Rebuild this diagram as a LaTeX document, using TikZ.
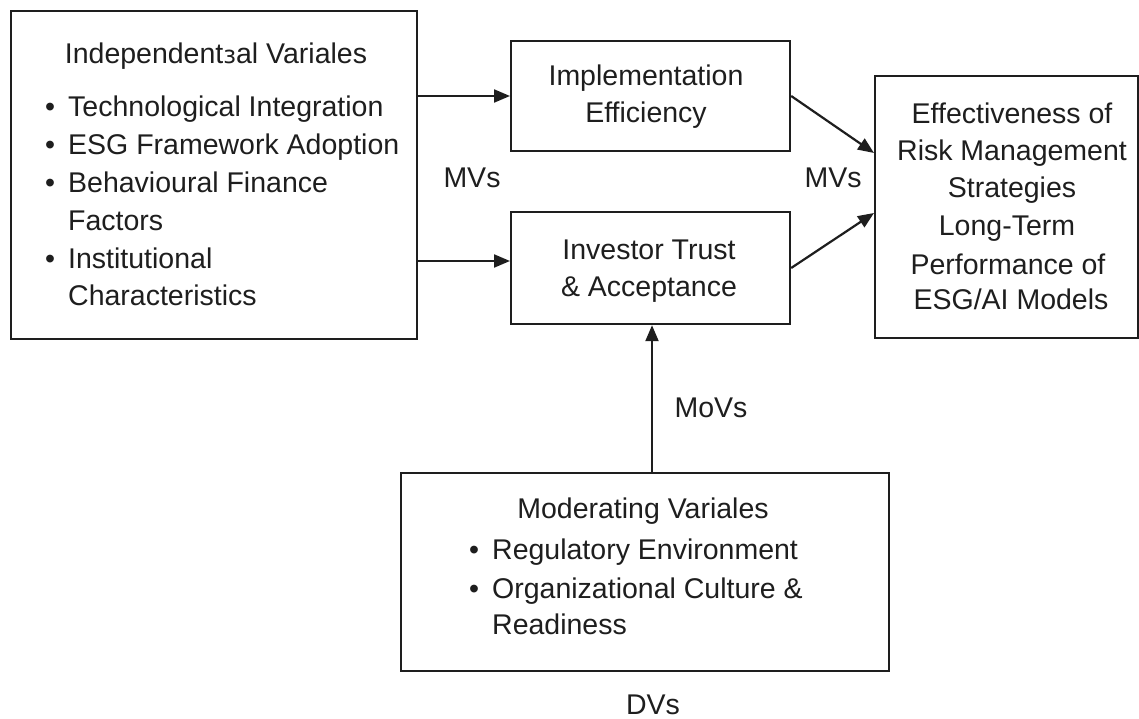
\documentclass[tikz,border=0pt]{standalone}
\usepackage{fontspec}
\setmainfont{Liberation Sans}
\newfontfamily\djv{DejaVu Sans}
\usetikzlibrary{arrows.meta}
\definecolor{ink}{HTML}{1E1E1E}
\begin{document}
\begin{tikzpicture}[x=1pt,y=-1pt,
  box/.style={draw=ink, line width=2.2pt, anchor=north west, inner sep=0pt, fill=white},
  txt/.style={anchor=base, inner sep=0pt, text=ink, font=\fontsize{28.5}{35}\selectfont},
  ltxt/.style={txt, anchor=base west},
  bul/.style={txt, anchor=base},
  arr/.style={draw=ink, line width=2.2pt, -{Triangle[length=16pt,width=13pt]}}]
\useasboundingbox (0,0) rectangle (1139,719);
% boxes
\node[box, minimum width=406pt, minimum height=328pt] (L) at (10,10) {};
\node[box, minimum width=279pt, minimum height=110pt] (I) at (510,40) {};
\node[box, minimum width=279pt, minimum height=112pt] (T) at (510,211) {};
\node[box, minimum width=263pt, minimum height=262pt] (R) at (874,75) {};
\node[box, minimum width=488pt, minimum height=198pt] (M) at (400,472) {};
% left box text
\node[txt] (Lt) at (216,64) {Independent{\djv\fontsize{24}{30}\selectfont ɜ}al Variales};
\node[bul] (Lb1) at (50,117) {•};
\node[ltxt] (L1) at (68,117) {Technological Integration};
\node[bul] (Lb2) at (50,155) {•};
\node[ltxt] (L2) at (68,155) {ESG Framework Adoption};
\node[bul] (Lb3) at (50,193) {•};
\node[ltxt] (L3) at (68,193) {Behavioural Finance};
\node[ltxt] (L4) at (68,230) {Factors};
\node[bul] (Lb5) at (50,268) {•};
\node[ltxt] (L5) at (68,268) {Institutional};
\node[ltxt] (L6) at (68,305) {Characteristics};
% middle boxes text
\node[txt] (I1) at (646,86) {Implementation};
\node[txt] (I2) at (646,123) {Efficiency};
\node[txt] (T1) at (649,259) {Investor Trust};
\node[txt] (T2) at (649,296) {\& Acceptance};
% right box text
\node[txt] (R1) at (1012,124) {Effectiveness of};
\node[txt] (R2) at (1012,161) {Risk Management};
\node[txt] (R3) at (1012,198) {Strategies};
\node[txt] (R4) at (1007,236) {Long-Term};
\node[txt] (R5) at (1008,274) {Performance of};
\node[txt] (R6) at (1011,309) {ESG/AI Models};
% moderating box text
\node[txt] (Mt) at (643,518) {Moderating Variales};
\node[bul] (Mb1) at (474,559) {•};
\node[ltxt] (M1) at (492,559) {Regulatory Environment};
\node[bul] (Mb2) at (474,598) {•};
\node[ltxt] (M2) at (492,598) {Organizational Culture \&};
\node[ltxt] (M3) at (492,634) {Readiness};
% labels
\node[txt] (mv1) at (472,188) {MVs};
\node[txt] (mv2) at (833,188) {MVs};
\node[txt] (mov) at (711,417) {MoVs};
\node[txt] (dv) at (653,714) {DVs};
% connectors
\draw[arr] (L.east |- 0,96) -- (I.west |- 0,96);
\draw[arr] (L.east |- 0,261) -- (T.west |- 0,261);
\draw[arr] (I.east |- 0,96) -- (R.west |- 0,153);
\draw[arr] (T.east |- 0,268) -- (R.west |- 0,213);
\draw[arr] (M.north -| 652,0) -- (T.south -| 652,0);
\end{tikzpicture}
\end{document}
